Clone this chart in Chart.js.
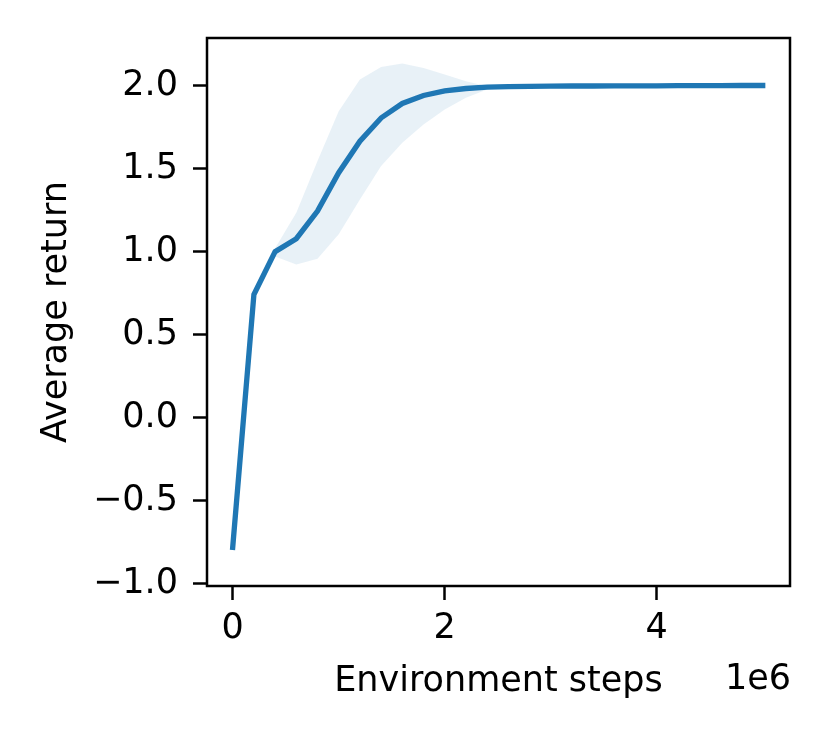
<!DOCTYPE html>
<html>
<head>
<meta charset="utf-8">
<script src="https://cdn.jsdelivr.net/npm/chart.js@4.4.1/dist/chart.umd.min.js"></script>
<style>
  html, body { margin: 0; padding: 0; background: #fff; }
  #wrap { width: 830px; height: 744px; }
</style>
</head>
<body>
<div id="wrap"><canvas id="canva1" width="830" height="744"></canvas></div>
<script>
// données
const steps = [0, 200000, 400000, 600000, 800000, 1000000, 1200000, 1400000, 1600000, 1800000,
  2000000, 2200000, 2400000, 2600000, 2800000, 3000000, 3200000, 3400000, 3600000, 3800000,
  4000000, 4200000, 4400000, 4600000, 4800000, 5000000];
const meanReturn = [-0.78, 0.742, 1.0, 1.078, 1.244, 1.475, 1.665, 1.805, 1.892, 1.94,
  1.968, 1.982, 1.99, 1.993, 1.995, 1.996, 1.997, 1.997, 1.998, 1.998,
  1.998, 1.999, 1.999, 1.999, 2.0, 2.0];
const upperReturn = [-0.78, 0.742, 1.02, 1.234, 1.545, 1.845, 2.036, 2.112, 2.132, 2.106,
  2.066, 2.026, 1.996, 1.995, 1.996, 1.997, 1.998, 1.998, 1.999, 1.999,
  1.999, 2.0, 2.0, 2.0, 2.0, 2.0];
const lowerReturn = [-0.78, 0.742, 0.97, 0.923, 0.957, 1.104, 1.314, 1.515, 1.655, 1.765,
  1.856, 1.926, 1.976, 1.99, 1.994, 1.995, 1.996, 1.996, 1.997, 1.997,
  1.997, 1.998, 1.998, 1.998, 2.0, 2.0];
const xTicks = [0, 2000000, 4000000];
const yTicks = [-1.0, -0.5, 0.0, 0.5, 1.0, 1.5, 2.0];

const police = "'DejaVu Sans', sans-serif";
const bleu = '#1f77b4';

const toPoints = vals => vals.map((v, i) => ({ x: steps[i], y: v }));

// cadre noir autour de la zone + le "1e6"
const cadre = {
  id: 'cadre',
  afterDraw(chart) {
    const { ctx, chartArea: a } = chart;
    ctx.save();
    ctx.strokeStyle = '#000';
    ctx.lineWidth = 2.5;
    ctx.strokeRect(a.left, a.top, a.right - a.left, a.bottom - a.top);
    ctx.fillStyle = '#000';
    ctx.font = '35px ' + police;
    ctx.textAlign = 'right';
    ctx.textBaseline = 'middle';
    ctx.fillText('1e6', a.right + 1, 680);
    ctx.restore();
  }
};

const ctx = document.querySelector('#canva1');
new Chart(ctx, {
  type: 'line',
  data: {
    datasets: [
      {
        label: 'upper',
        data: toPoints(upperReturn),
        borderWidth: 0,
        pointRadius: 0,
        backgroundColor: 'rgba(31,119,180,0.1)',
        fill: '+1',
        order: 2
      },
      {
        label: 'lower',
        data: toPoints(lowerReturn),
        borderWidth: 0,
        pointRadius: 0,
        fill: false,
        order: 2
      },
      {
        label: 'mean',
        data: toPoints(meanReturn),
        borderColor: bleu,
        borderWidth: 5.3,
        borderCapStyle: 'square',
        pointRadius: 0,
        fill: false,
        order: 1
      }
    ]
  },
  options: {
    responsive: false,
    animation: false,
    events: [],
    layout: { padding: { left: 0, top: 38, right: 40, bottom: 0 } },
    plugins: { legend: { display: false }, tooltip: { enabled: false } },
    scales: {
      x: {
        type: 'linear',
        min: -242500,
        max: 5257500,
        afterBuildTicks: s => { s.ticks = xTicks.map(v => ({ value: v })); },
        afterFit: s => { s.height = 744 - 586; },
        grid: { drawOnChartArea: false, drawTicks: true, tickLength: 14, tickWidth: 2.5, tickColor: '#000' },
        border: { display: false },
        ticks: {
          color: '#000',
          font: { family: police, size: 35 },
          padding: 8,
          maxRotation: 0,
          callback: v => String(v / 1e6)
        },
        title: {
          display: true,
          text: 'Environment steps',
          color: '#000',
          font: { family: police, size: 35 },
          padding: { top: 0, bottom: 41 }
        }
      },
      y: {
        min: -1.013,
        max: 2.286,
        afterBuildTicks: s => { s.ticks = yTicks.map(v => ({ value: v })); },
        afterFit: s => { s.width = 207; },
        grid: { drawOnChartArea: false, drawTicks: true, tickLength: 14, tickWidth: 2.5, tickColor: '#000' },
        border: { display: false },
        ticks: {
          color: '#000',
          font: { family: police, size: 35 },
          padding: 15,
          callback: v => v.toFixed(1).replace('-', '\u2212')
        },
        title: {
          display: true,
          text: 'Average return',
          color: '#000',
          font: { family: police, size: 35 },
          padding: { top: 36, bottom: 0 }
        }
      }
    }
  },
  plugins: [cadre]
});
</script>
</body>
</html>
